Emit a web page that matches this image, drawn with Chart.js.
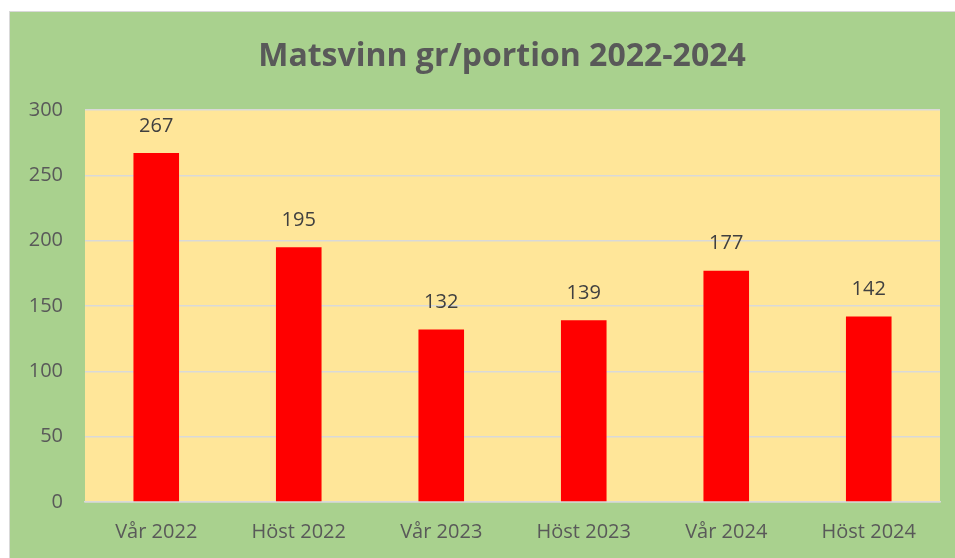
<!DOCTYPE html>
<html>
<head>
<meta charset="utf-8">
<script src="https://cdn.jsdelivr.net/npm/chart.js@4"></script>
<style>
  html, body { margin: 0; padding: 0; background: #ffffff; }
  #wrap { width: 955px; height: 558px; }
</style>
</head>
<body>
<div id="wrap"><canvas id="matsvinnChart" width="955" height="558"></canvas></div>
<script>
const categories = ["Vår 2022", "Höst 2022", "Vår 2023", "Höst 2023", "Vår 2024", "Höst 2024"];
const grPerPortion = [267, 195, 132, 139, 177, 142];
const yTicks = [0, 50, 100, 150, 200, 250, 300];
const chartTitle = "Matsvinn gr/portion 2022-2024";

const FONT = "'Open Sans', 'Noto Sans', sans-serif";

// green box behind everything + yellow plot area
const backgrounds = {
  id: "backgrounds",
  beforeDraw(chart) {
    const { ctx, chartArea: a } = chart;
    ctx.save();
    ctx.fillStyle = "#a9d18e";
    ctx.fillRect(9, 11, chart.width - 9, chart.height - 11);
    ctx.strokeStyle = "#d9d9d9";
    ctx.lineWidth = 1;
    ctx.strokeRect(9.5, 11.5, chart.width, chart.height);
    ctx.fillStyle = "#ffe699";
    ctx.fillRect(a.left, a.top, a.right - a.left, a.bottom - a.top);
    ctx.restore();
  }
};

// title is centred on the whole green box, which runs past the right edge
const titleText = {
  id: "titleText",
  afterDraw(chart) {
    const { ctx } = chart;
    ctx.save();
    ctx.font = "bold 32px " + FONT;
    ctx.fillStyle = "#595959";
    ctx.textAlign = "center";
    ctx.textBaseline = "middle";
    ctx.fillText(chartTitle, 502, 57);
    ctx.restore();
  }
};

// value labels above bars
const valueLabels = {
  id: "valueLabels",
  afterDatasetsDraw(chart) {
    const { ctx } = chart;
    const meta = chart.getDatasetMeta(0);
    ctx.save();
    ctx.font = "20px " + FONT;
    ctx.fillStyle = "#404040";
    ctx.textAlign = "center";
    ctx.textBaseline = "middle";
    meta.data.forEach((bar, i) => {
      ctx.fillText(String(grPerPortion[i]), bar.x, bar.y - 27);
    });
    ctx.restore();
  }
};

new Chart(document.getElementById("matsvinnChart"), {
  type: "bar",
  data: {
    labels: categories,
    datasets: [{
      data: grPerPortion,
      backgroundColor: "#ff0000",
      borderWidth: 0,
      categoryPercentage: 1,
      barPercentage: 0.32
    }]
  },
  options: {
    responsive: false,
    animation: false,
    layout: { padding: { top: 110, right: 15, left: 9, bottom: 0 } },
    plugins: {
      legend: { display: false },
      tooltip: { enabled: false },
      title: { display: false }
    },
    scales: {
      x: {
        grid: { display: false, drawTicks: false },
        border: { color: "#d9d9d9", width: 1.5 },
        ticks: { color: "#595959", font: { family: FONT, size: 20 }, padding: 18 },
        afterFit(scale) { scale.height = 56; }
      },
      y: {
        min: 0,
        max: 300,
        afterBuildTicks(scale) { scale.ticks = yTicks.map(v => ({ value: v })); },
        grid: { color: "#d9d9d9", lineWidth: 1.5, drawTicks: false },
        border: { display: false },
        ticks: { color: "#595959", font: { family: FONT, size: 20 }, padding: 22 },
        afterFit(scale) { scale.width = 76; }
      }
    }
  },
  plugins: [backgrounds, titleText, valueLabels]
});
</script>
</body>
</html>
